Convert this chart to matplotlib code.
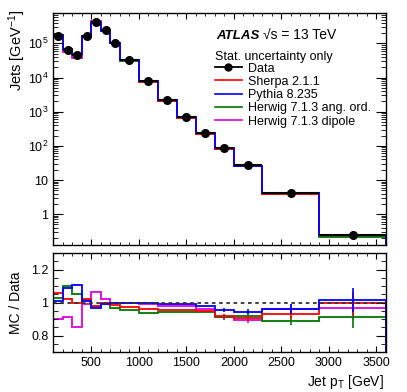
import numpy as np
import matplotlib
matplotlib.use("Agg")
import matplotlib.pyplot as plt
from matplotlib.ticker import MultipleLocator, LogLocator, FuncFormatter, NullFormatter

plt.rcParams['font.family'] = ['Liberation Sans', 'DejaVu Sans']
plt.rcParams['mathtext.fontset'] = 'custom'
plt.rcParams['mathtext.rm'] = 'Liberation Sans'
plt.rcParams['mathtext.it'] = 'Liberation Sans:italic'
plt.rcParams['mathtext.bf'] = 'Liberation Sans:bold'

# bin edges in GeV
edges = [100, 200, 300, 400, 500, 600, 700, 800, 1000, 1200, 1400, 1600,
         1800, 2000, 2300, 2900, 3600]

# data: jets per GeV
data = [1.7e5, 6.3e4, 4.5e4, 1.6e5, 4.2e5, 2.4e5, 1.05e5, 3.3e4, 7.8e3,
        2.2e3, 7.0e2, 2.4e2, 88, 28, 4.3, 0.24]

# MC / data ratios
r_sherpa = [1.06, 1.02, 1.00, 1.02, 0.98, 0.995, 0.985, 0.975, 0.96, 0.955,
            0.955, 0.95, 0.92, 0.905, 0.93, 0.995]
r_pythia = [1.01, 1.09, 1.105, 1.01, 0.97, 0.99, 1.00, 1.00, 0.995, 0.99,
            0.99, 0.98, 0.955, 0.945, 0.96, 1.015]
r_herwig_ao = [1.03, 1.10, 1.05, 1.015, 0.98, 0.99, 0.97, 0.955, 0.94, 0.945,
               0.945, 0.945, 0.915, 0.92, 0.89, 0.91]
r_herwig_dp = [0.90, 0.915, 0.85, 0.99, 1.065, 1.02, 1.00, 0.995, 0.99, 0.98,
               0.98, 0.96, 0.91, 0.895, 0.96, 0.97]
# relative stat. uncertainty of the MC (only visible at high pT)
mc_err = [0, 0, 0, 0, 0, 0, 0, 0, 0, 0, 0, 0, 0.015, 0.018, 0.03, 0.07]

names = ['Sherpa 2.1.1', 'Pythia 8.235', 'Herwig 7.1.3 ang. ord.', 'Herwig 7.1.3 dipole']
colors = ['#ff0000', '#0000ff', '#007700', '#dd00dd']
ratios = [r_sherpa, r_pythia, r_herwig_ao, r_herwig_dp]

edges_a = np.array(edges, dtype=float)
centers = 0.5 * (edges_a[1:] + edges_a[:-1])
halfw = 0.5 * (edges_a[1:] - edges_a[:-1])
data_a = np.array(data)

fig = plt.figure(figsize=(4.07, 3.92), dpi=100)
ax = fig.add_axes([0.131, 0.375, 0.817, 0.593])
rax = fig.add_axes([0.131, 0.102, 0.817, 0.252])

# draw order: dipole, ang. ord., sherpa, pythia
order = [3, 2, 0, 1]
for i in order:
    ax.stairs(data_a * np.array(ratios[i]), edges_a, color=colors[i], lw=1.3)
    rax.stairs(ratios[i], edges_a, color=colors[i], lw=1.3)
    err = np.array(mc_err) * np.array(ratios[i])
    m = err > 0
    rax.errorbar(centers[m], np.array(ratios[i])[m], yerr=err[m], fmt='none',
                 ecolor=colors[i], elinewidth=1.2)

ax.errorbar(centers, data_a, xerr=halfw, fmt='o', color='black', ms=5.5,
            elinewidth=1.5, capsize=0)
rax.axhline(1.0, color='#333333', ls=(0, (2, 2)), lw=1.3)

ax.set_yscale('log')
ax.set_xlim(100, 3600)
ax.set_ylim(0.125, 8e5)
rax.set_xlim(100, 3600)
rax.set_ylim(0.7, 1.3)

def logfmt(v, pos):
    if v == 1:
        return '1'
    if v == 10:
        return '10'
    e = int(round(np.log10(v)))
    return r'$10^{%d}$' % e

ax.yaxis.set_major_locator(LogLocator(base=10, numticks=20))
ax.yaxis.set_minor_locator(LogLocator(base=10, subs=np.arange(2, 10), numticks=20))
ax.yaxis.set_major_formatter(FuncFormatter(logfmt))
ax.yaxis.set_minor_formatter(NullFormatter())

for a in (ax, rax):
    a.xaxis.set_major_locator(MultipleLocator(500))
    a.xaxis.set_minor_locator(MultipleLocator(100))
    a.tick_params(which='both', direction='in', top=True, right=True, labelsize=9)
    a.tick_params(axis='x', which='major', length=4.5)
    a.tick_params(axis='x', which='minor', length=2.3)
    a.tick_params(axis='y', which='major', length=7)
    a.tick_params(axis='y', which='minor', length=3.5)
    for s in a.spines.values():
        s.set_linewidth(1.0)
ax.tick_params(labelbottom=False)

rax.yaxis.set_major_locator(MultipleLocator(0.2))
rax.yaxis.set_minor_locator(MultipleLocator(0.05))
rax.yaxis.set_major_formatter(FuncFormatter(lambda v, p: '1' if abs(v - 1) < 1e-6 else '%g' % v))

ax.set_ylabel(r'Jets [GeV$^{-1}$]', fontsize=10.5)
ax.yaxis.set_label_coords(-0.076, 0.837)
rax.set_ylabel('MC / Data', fontsize=10)
rax.yaxis.set_label_coords(-0.092, 0.5)
rax.set_xlabel(r'Jet p$_{\mathregular{T}}$ [GeV]', fontsize=10)
rax.xaxis.set_label_coords(0.995, -0.215)
rax.xaxis.label.set_ha('right')

ax.text(0.49, 0.90, 'ATLAS', transform=ax.transAxes, fontsize=9.5,
        fontweight='bold', style='italic', va='center')
ax.text(0.63, 0.90, '\u221as = 13 TeV', transform=ax.transAxes,
        fontsize=10, va='center')
ax.text(0.487, 0.807, 'Stat. uncertainty only', transform=ax.transAxes,
        fontsize=9, va='center')

handles = [plt.Line2D([], [], color='black', marker='o', ms=5, lw=1.3)]
for i in range(4):
    handles.append(plt.Line2D([], [], color=colors[i], lw=1.2))
ax.legend(handles, ['Data'] + names, loc='upper left', bbox_to_anchor=(0.485, 0.785),
          frameon=False, fontsize=9, handlelength=2.2, handletextpad=0.45,
          labelspacing=0.1, borderpad=0.0, borderaxespad=0)

fig.savefig('out.png', dpi=100)
